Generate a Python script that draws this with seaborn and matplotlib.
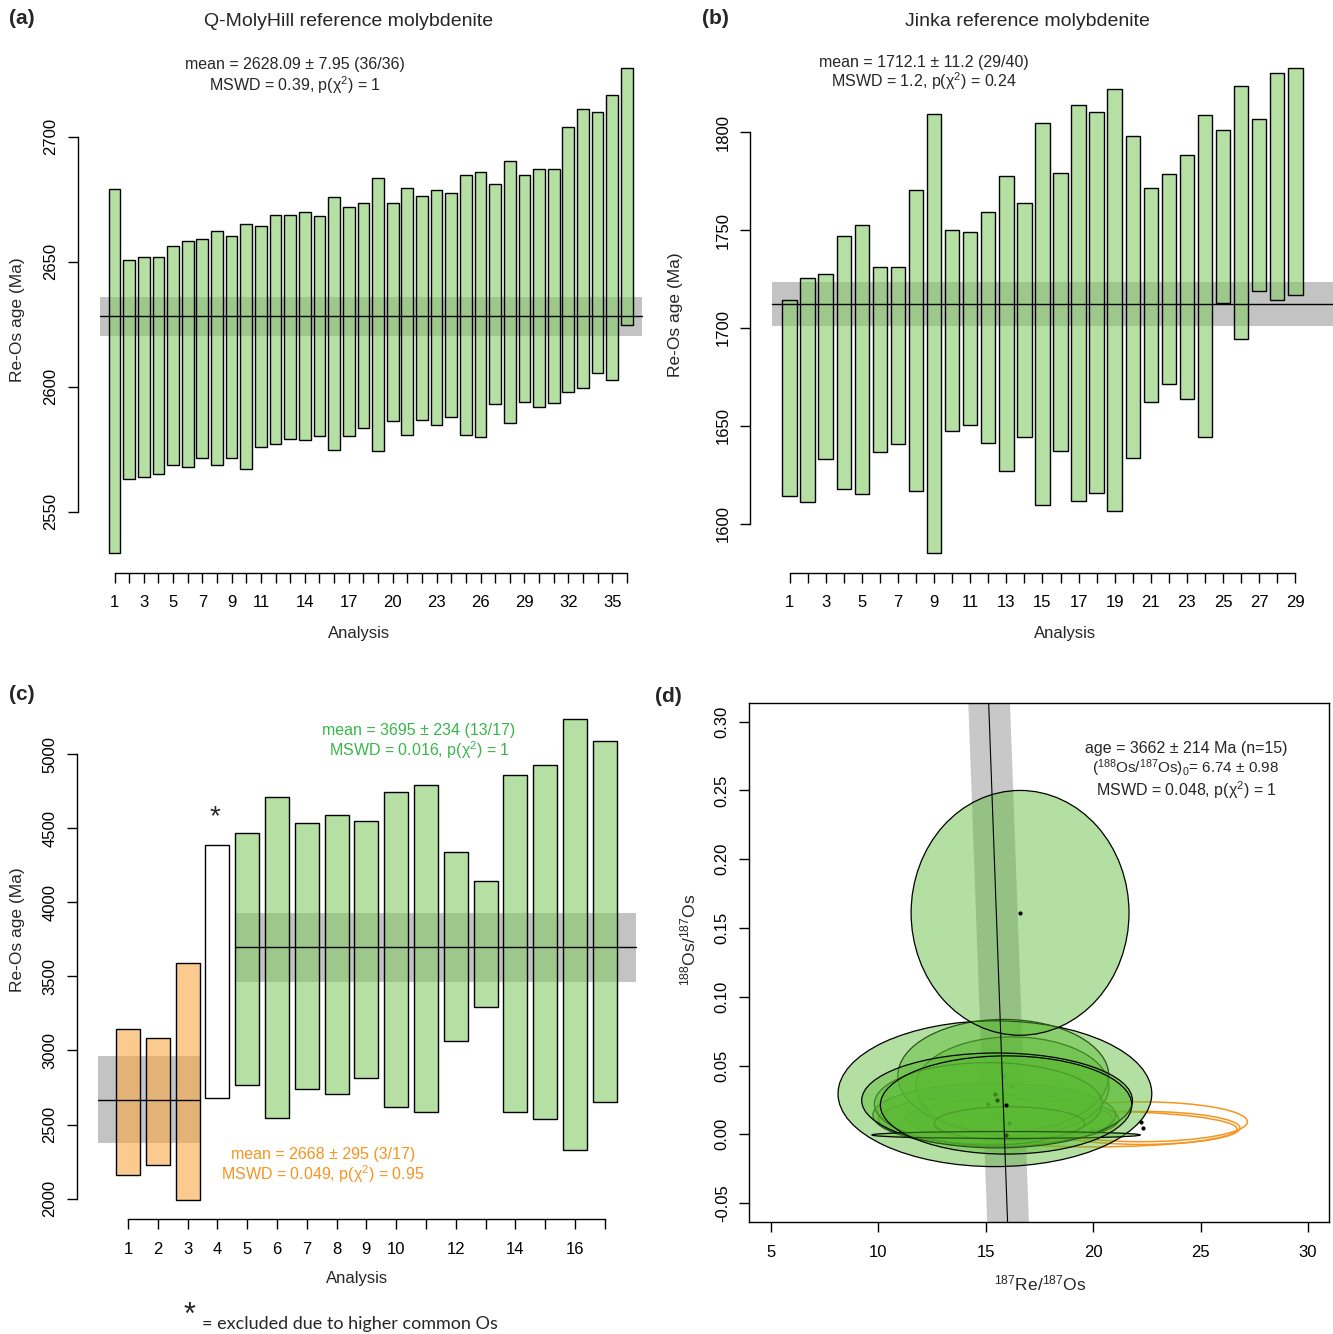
import matplotlib
matplotlib.use('Agg')
import matplotlib.pyplot as plt
from matplotlib.patches import Ellipse
import seaborn as sns
import numpy as np

# (a) Q-MolyHill reference molybdenite: error bar tops / bottoms (Ma)
a_top = [2679.1, 2650.8, 2651.7, 2651.7, 2656.4, 2658.3, 2659.0, 2662.2, 2660.4, 2665.0,
         2664.3, 2668.8, 2668.8, 2669.9, 2668.4, 2675.9, 2672.0, 2673.4, 2683.4, 2673.5,
         2679.5, 2676.3, 2678.7, 2677.4, 2684.7, 2686.0, 2681.2, 2690.2, 2684.8, 2687.0,
         2687.1, 2703.9, 2711.0, 2709.8, 2716.8, 2727.5]
a_bot = [2533.5, 2563.1, 2563.9, 2565.1, 2568.7, 2567.9, 2571.6, 2568.8, 2571.5, 2567.2,
         2575.8, 2577.0, 2579.2, 2578.7, 2580.2, 2574.7, 2580.3, 2583.5, 2574.2, 2586.4,
         2580.6, 2586.6, 2584.6, 2587.9, 2580.6, 2580.0, 2593.1, 2585.6, 2593.9, 2591.9,
         2593.5, 2598.0, 2599.6, 2605.4, 2602.7, 2624.8]
a_mean, a_err = 2628.09, 7.95
a_xlabels = [1, 3, 5, 7, 9, 11, 14, 17, 20, 23, 26, 29, 32, 35]

# (b) Jinka reference molybdenite
b_top = [1714.3, 1725.7, 1727.7, 1747.2, 1752.5, 1731.3, 1731.0, 1770.7, 1809.4, 1750.1,
         1748.9, 1759.3, 1777.8, 1763.9, 1804.9, 1779.2, 1814.1, 1810.2, 1822.1, 1798.1,
         1771.5, 1778.5, 1788.6, 1808.8, 1801.3, 1823.5, 1806.8, 1830.5, 1832.9]
b_bot = [1614.0, 1611.1, 1633.1, 1617.9, 1615.2, 1636.8, 1640.9, 1616.9, 1585.0, 1647.2,
         1650.6, 1641.1, 1626.8, 1644.5, 1609.4, 1637.0, 1611.6, 1615.5, 1606.3, 1633.7,
         1662.3, 1671.2, 1663.6, 1644.1, 1712.6, 1694.2, 1718.9, 1714.3, 1717.0]
b_mean, b_err = 1712.1, 11.2
b_xlabels = list(range(1, 30, 2))

# (c) sample analyses
c_top = [3143, 3086, 3588, 4386, 4467, 4712, 4532, 4588, 4546, 4746, 4789, 4339, 4143,
         4861, 4928, 5234, 5088]
c_bot = [2162, 2225, 1989, 2677, 2767, 2544, 2740, 2704, 2814, 2621, 2585, 3062, 3295,
         2587, 2538, 2326, 2654]
c_group = ['old'] * 3 + ['excluded'] + ['young'] * 13
c_green_mean, c_green_err = 3695, 234
c_orange_mean, c_orange_err = 2668, 295
c_xlabels = [1, 2, 3, 4, 5, 6, 7, 8, 9, 10, 12, 14, 16]

# (d) isochron ellipses: centre x, centre y, half widths
d_gx = [16.1, 15.6, 15.4, 16.24, 15.82, 15.12, 16.1, 15.43, 16.6, 15.53, 15.95, 15.95]
d_gy = [0.011, 0.0109, 0.014, 0.0348, 0.0425, 0.0221, 0.008, 0.0295, 0.161, 0.0246, -0.0005, 0.0213]
d_gw = [4.8, 5.6, 5.65, 4.5, 4.91, 5.3, 3.5, 7.3, 5.07, 6.3, 6.25, 5.85]
d_gh = [0.015, 0.018, 0.023, 0.036, 0.041, 0.03, 0.012, 0.053, 0.089, 0.0345, 0.0025, 0.0357]
d_ox = [22.23, 22.3, 19.9]
d_oy = [0.0091, 0.0046, 0.0038]
d_ow = [4.95, 4.53, 6.8]
d_oh = [0.0145, 0.012, 0.013]
iso_x0, iso_slope, iso_halfwidth = 15.87, -2.33, 0.97

GREEN = (131.7 / 255, 203.3 / 255, 101.7 / 255, 0.6)
ORANGE = (248.3 / 255, 168.3 / 255, 66.7 / 255, 0.6)
BAND = '#c3c3c3'
TXT_GREEN = '#39b54a'
TXT_ORANGE = '#f7941e'

sns.set_theme(style='ticks')
plt.rcParams['font.family'] = ['Liberation Sans', 'DejaVu Sans']
plt.rcParams['mathtext.fontset'] = 'custom'
plt.rcParams['mathtext.rm'] = 'Liberation Sans'
plt.rcParams['mathtext.it'] = 'Liberation Sans:italic'
plt.rcParams['axes.unicode_minus'] = False

W, H = 1333, 1334
fig = plt.figure(figsize=(W / 100, H / 100), dpi=100)


def add_ax(left, top, right, bottom):
    return fig.add_axes([left / W, 1 - bottom / H, (right - left) / W, (bottom - top) / H])


def ftext(x, y, s, **kw):
    kw.setdefault('ha', 'center')
    kw.setdefault('va', 'center')
    fig.text(x / W, 1 - y / H, s, **kw)


def style_r_axes(ax, ybounds, n, xlabels):
    for s in ['top', 'right']:
        ax.spines[s].set_visible(False)
    for s in ['left', 'bottom']:
        ax.spines[s].set_color('black')
        ax.spines[s].set_linewidth(1)
    ax.spines['left'].set_bounds(*ybounds)
    ax.spines['bottom'].set_bounds(1, n)
    ax.set_xticks(range(1, n + 1))
    ax.set_xticklabels([str(i) if i in xlabels else '' for i in range(1, n + 1)])
    ax.tick_params(direction='out', length=7, width=1, colors='black', labelsize=12)
    ax.tick_params(axis='x', pad=9)
    ax.tick_params(axis='y', pad=7)
    for lab in ax.get_yticklabels():
        lab.set_rotation(90)
        lab.set_va('center')
    ax.set_xlabel('')
    ax.set_ylabel('')
    ax.patch.set_alpha(0)


def bars(ax, top, bot, colors):
    x = np.arange(1, len(top) + 1)
    ax.bar(x, np.array(top) - np.array(bot), bottom=bot, width=0.8, color=colors,
           edgecolor='black', linewidth=1, zorder=2)


def mean_band(ax, x0, x1, m, e):
    ax.fill_between([x0, x1], m - e, m + e, color=BAND, lw=0, zorder=1)
    sns.lineplot(x=[x0, x1], y=[m, m], ax=ax, color='black', lw=1, zorder=3)


# ---------- (a) ----------
ax = add_ax(78, 40, 650, 573)
ax.set_xlim(1 - (114.5 - 78) / 14.64, 1 + (650 - 114.5) / 14.64)
ax.set_ylim(2700 - (573 - 136.7) / 2.5, 2700 + (136.7 - 40) / 2.5)
mean_band(ax, 0, len(a_top) + 1, a_mean, a_err)
bars(ax, a_top, a_bot, [GREEN] * len(a_top))
ax.set_yticks([2550, 2600, 2650, 2700])
style_r_axes(ax, (2550, 2700), len(a_top), a_xlabels)

ftext(22, 18, '(a)', fontsize=15, fontweight='bold')
ftext(349, 21, 'Q-MolyHill reference molybdenite', fontsize=14)
ftext(295, 65, 'mean = 2628.09 ± 7.95 (36/36)', fontsize=11.5)
ftext(295, 85, r'MSWD = 0.39, p(χ$^2$) = 1', fontsize=11.5)
ftext(359, 633, 'Analysis', fontsize=12)
ftext(18, 320, 'Re-Os age (Ma)', fontsize=12.5, rotation=90)

# ---------- (b) ----------
ax = add_ax(750, 40, 1333, 573)
ax.set_xlim(1 - (789.6 - 750) / 18.06, 1 + (1333 - 789.6) / 18.06)
ax.set_ylim(1800 - (573 - 132.3) / 1.957, 1800 + (132.3 - 40) / 1.957)
mean_band(ax, 0, len(b_top) + 3, b_mean, b_err)
bars(ax, b_top, b_bot, [GREEN] * len(b_top))
ax.set_yticks([1600, 1650, 1700, 1750, 1800])
style_r_axes(ax, (1600, 1800), len(b_top), b_xlabels)

ftext(715, 18, '(b)', fontsize=15, fontweight='bold')
ftext(1027, 21, 'Jinka reference molybdenite', fontsize=14)
ftext(924, 62, 'mean = 1712.1 ± 11.2 (29/40)', fontsize=11.5)
ftext(924, 81, r'MSWD = 1.2, p(χ$^2$) = 0.24', fontsize=11.5)
ftext(1065, 634, 'Analysis', fontsize=12)
ftext(676, 315, 'Re-Os age (Ma)', fontsize=12.5, rotation=90)

# ---------- (c) ----------
ax = add_ax(76.6, 700, 640, 1219.3)
ax.set_xlim(1 - (128 - 76.6) / 29.8, 1 + (640 - 128) / 29.8)
ax.set_ylim(5000 - (1219.3 - 754) / 0.14823, 5000 + (754 - 700) / 0.14823)
mean_band(ax, 0, 3.4, c_orange_mean, c_orange_err)
mean_band(ax, 4.6, 18.05, c_green_mean, c_green_err)
c_colors = [{'old': ORANGE, 'excluded': 'white', 'young': GREEN}[g] for g in c_group]
bars(ax, c_top, c_bot, c_colors)
ax.set_yticks(range(2000, 5001, 500))
style_r_axes(ax, (2000, 5000), len(c_top), c_xlabels)

ftext(22, 695, '(c)', fontsize=15, fontweight='bold')
ftext(215, 817, '*', fontsize=20)
ftext(419, 731, 'mean = 3695 ± 234 (13/17)', fontsize=11.5, color=TXT_GREEN)
ftext(419, 750, r'MSWD = 0.016, p(χ$^2$) = 1', fontsize=11.5, color=TXT_GREEN)
ftext(323, 1155, 'mean = 2668 ± 295 (3/17)', fontsize=11.5, color=TXT_ORANGE)
ftext(323, 1174, r'MSWD = 0.049, p(χ$^2$) = 0.95', fontsize=11.5, color=TXT_ORANGE)
ftext(357, 1279, 'Analysis', fontsize=12)
ftext(18, 930, 'Re-Os age (Ma)', fontsize=12.5, rotation=90)
ftext(190, 1316, '*', fontsize=22)
ftext(202, 1324, '= excluded due to higher common Os', fontsize=13, ha='left', family='Lato')

# ---------- (d) ----------
ax = add_ax(749.3, 702.7, 1329.5, 1222.3)
ax.set_xlim(4.0, 31.0)
ax.set_ylim(-0.064, 0.3138)
yy = np.array([-0.07, 0.32])
xx = iso_x0 + iso_slope * yy
ax.fill_betweenx(yy, xx - iso_halfwidth, xx + iso_halfwidth, color='#c8c8c8', lw=0, zorder=0.5)

z = 1.0
for x, y, w, h in zip(d_ox, d_oy, d_ow, d_oh):
    ax.add_patch(Ellipse((x, y), 2 * w, 2 * h, facecolor='none', edgecolor='#f7941e',
                         lw=1.1, zorder=z))
    ax.plot(x, y, 'o', ms=2, color='black', zorder=z + 0.01)
    z += 0.1
for x, y, w, h in zip(d_gx, d_gy, d_gw, d_gh):
    ax.add_patch(Ellipse((x, y), 2 * w, 2 * h, facecolor=(90 / 255, 186 / 255, 51 / 255, 0.45),
                         edgecolor='black', lw=0.9, zorder=z))
    ax.plot(x, y, 'o', ms=2, color='black', zorder=z + 0.01)
    z += 0.1
sns.lineplot(x=xx, y=yy, ax=ax, color='black', lw=0.8, zorder=z + 1, sort=False)

ax.set_xticks([5, 10, 15, 20, 25, 30])
ax.set_yticks(np.round(np.arange(-0.05, 0.301, 0.05), 2))
ax.set_yticklabels([f'{v:.2f}' for v in np.round(np.arange(-0.05, 0.301, 0.05), 2)])
for s in ax.spines.values():
    s.set_color('black')
    s.set_linewidth(1)
ax.tick_params(direction='out', length=7, width=1, colors='black', labelsize=12)
ax.tick_params(axis='x', pad=9)
ax.tick_params(axis='y', pad=7)
for lab in ax.get_yticklabels():
    lab.set_rotation(90)
    lab.set_va('center')
ax.set_xlabel('')
ax.set_ylabel('')

ftext(668, 697, '(d)', fontsize=15, fontweight='bold')
ftext(1186, 749, 'age = 3662 ± 214 Ma (n=15)', fontsize=11.5)
ftext(1186, 768, r'($^{188}$Os/$^{187}$Os)$_0$= 6.74 ± 0.98', fontsize=11)
ftext(1186, 790, r'MSWD = 0.048, p(χ$^2$) = 1', fontsize=11.5)
ftext(1040, 1283, r'$^{187}$Re/$^{187}$Os', fontsize=12.5)
ftext(688, 940, r'$^{188}$Os/$^{187}$Os', fontsize=12.5, rotation=90)

fig.savefig('out.png', dpi=100)
